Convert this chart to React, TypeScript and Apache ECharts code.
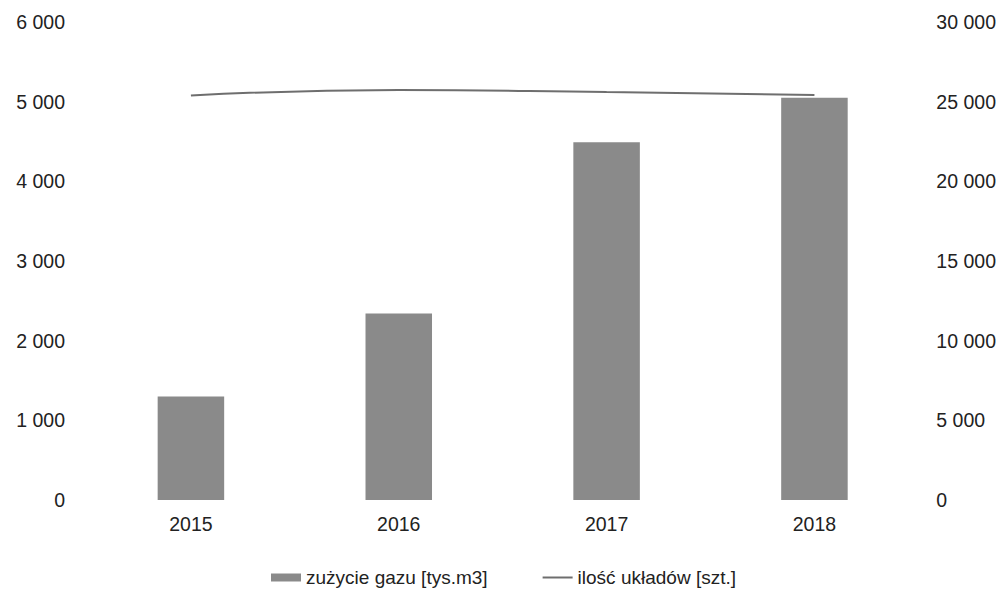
import React, { useEffect, useRef } from "react";
import * as echarts from "echarts";

const categories = ["2015", "2016", "2017", "2018"];
const gasUsage = [1300, 2340, 4490, 5050];
const unitCount = [25390, 25730, 25600, 25420];
const leftTicks = [0, 1000, 2000, 3000, 4000, 5000, 6000];
const rightTicks = [0, 5000, 10000, 15000, 20000, 25000, 30000];

const fmt = (v: number) => String(v).replace(/\B(?=(\d{3})+(?!\d))/g, " ");

export default function App() {
  const ref = useRef<HTMLDivElement>(null);
  useEffect(() => {
    if (!ref.current) return;
    const chart = echarts.init(ref.current, null, { renderer: "svg" });
    const font = "'Liberation Sans', Arial, sans-serif";
    chart.setOption({
      animation: false,
      backgroundColor: "#ffffff",
      textStyle: { fontFamily: font },
      grid: { left: 79, right: 80, top: 14, bottom: 104 },
      legend: {
        bottom: 12,
        left: "center",
        itemGap: 55,
        itemWidth: 30,
        itemHeight: 8,
        textStyle: { fontSize: 19, color: "#222", fontFamily: font },
        data: [
          { name: "zużycie gazu [tys.m3]", icon: "rect" },
          { name: "ilość układów [szt.]", icon: "path://M0,0H30V2H0Z" },
        ],
      },
      xAxis: {
        type: "category",
        data: categories,
        axisLine: { show: false },
        axisTick: { show: false },
        axisLabel: { fontSize: 19.5, color: "#222", margin: 14 },
      },
      yAxis: [
        {
          type: "value",
          min: leftTicks[0],
          max: leftTicks[leftTicks.length - 1],
          interval: 1000,
          axisLine: { show: false },
          axisTick: { show: false },
          axisLabel: { fontSize: 19.5, color: "#222", margin: 22, formatter: fmt },
          splitLine: { show: false },
        },
        {
          type: "value",
          min: rightTicks[0],
          max: rightTicks[rightTicks.length - 1],
          interval: 5000,
          axisLine: { show: false },
          axisTick: { show: false },
          axisLabel: { fontSize: 19.5, color: "#222", margin: 18, formatter: fmt },
          splitLine: { show: false },
        },
      ],
      series: [
        {
          name: "zużycie gazu [tys.m3]",
          type: "bar",
          data: gasUsage,
          barWidth: "32%",
          itemStyle: { color: "#8a8a8a" },
        },
        {
          name: "ilość układów [szt.]",
          type: "line",
          yAxisIndex: 1,
          data: unitCount,
          smooth: true,
          symbol: "none",
          lineStyle: { color: "#6e6e6e", width: 2 },
          itemStyle: { color: "#6e6e6e" },
        },
      ],
    });
    return () => chart.dispose();
  }, []);
  return <div ref={ref} style={{ width: 991, height: 596 }} />;
}
